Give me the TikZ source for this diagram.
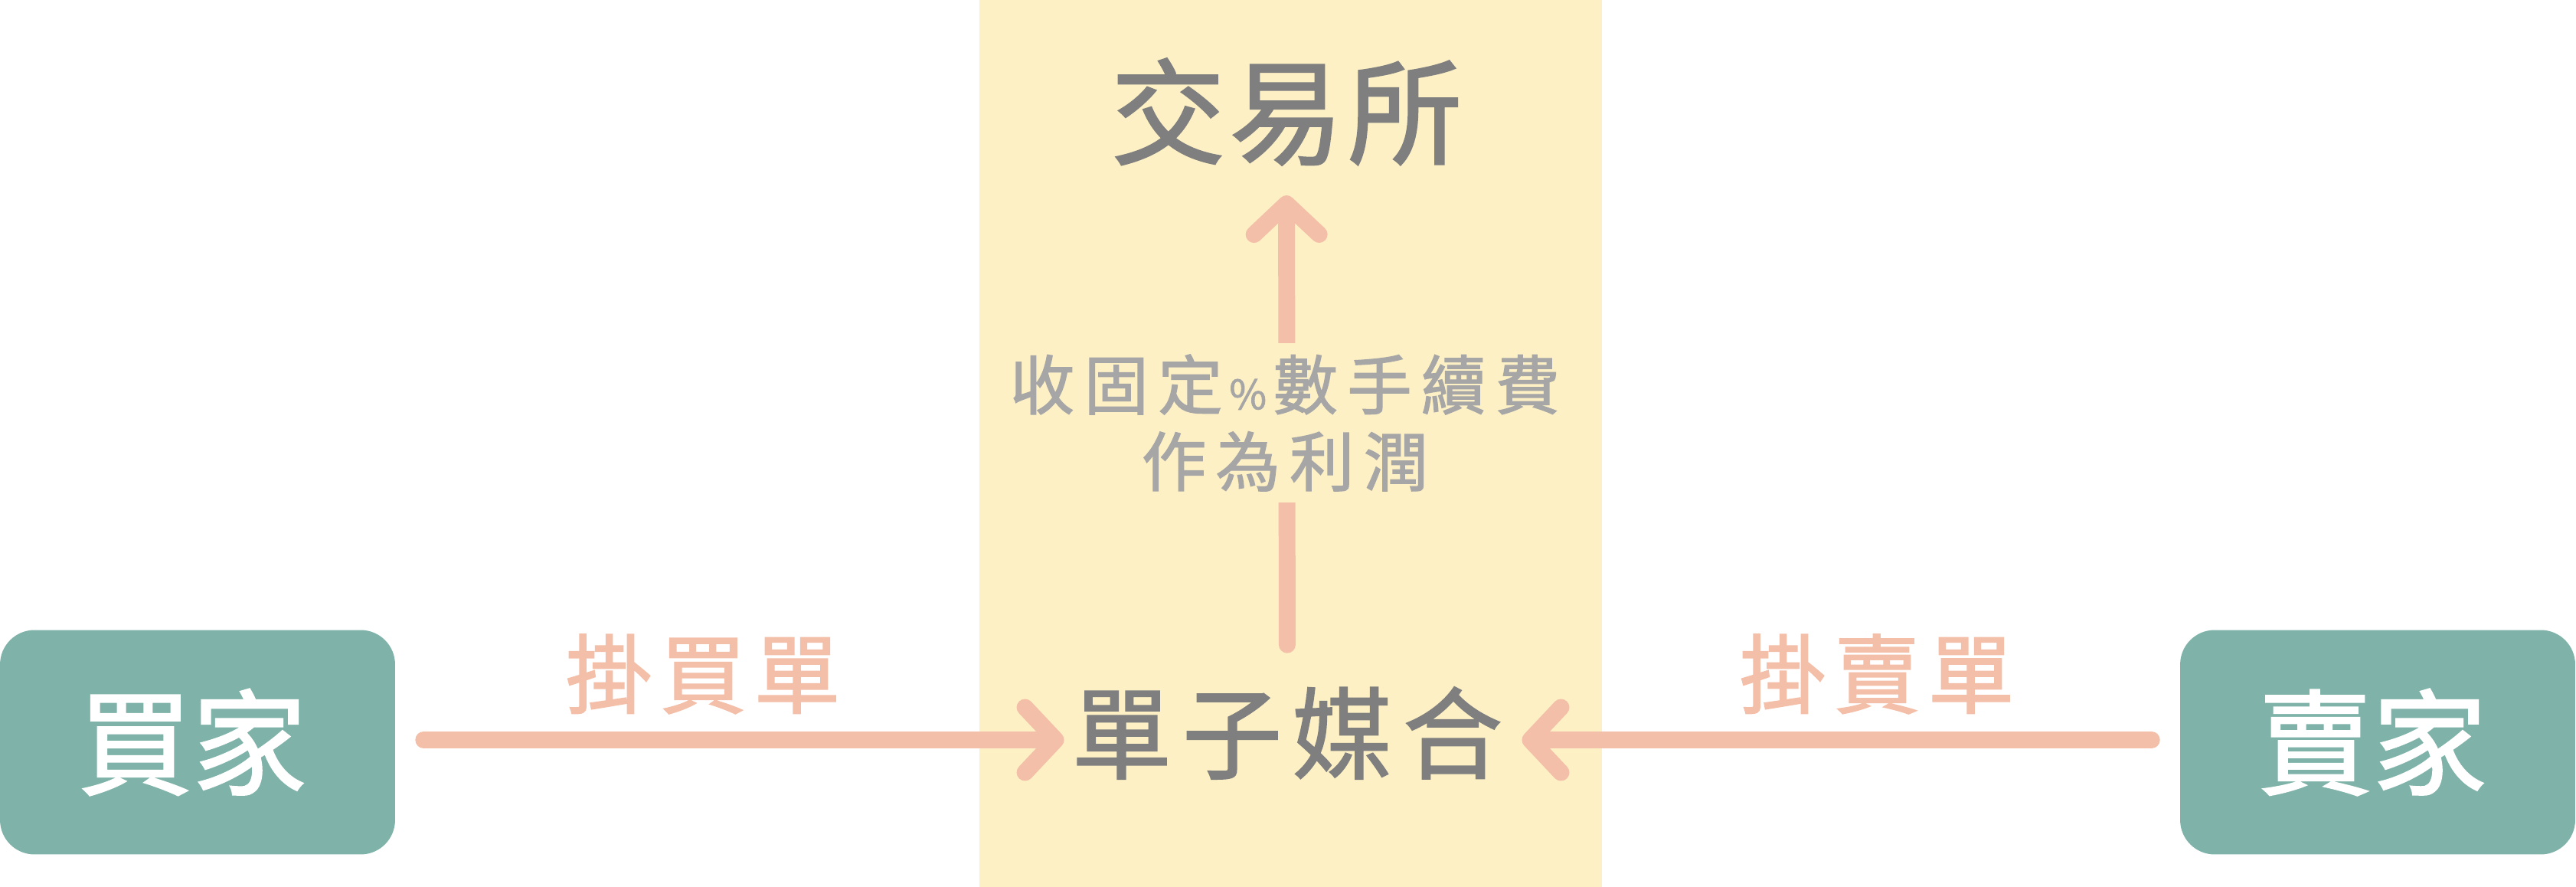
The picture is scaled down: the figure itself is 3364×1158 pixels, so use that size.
\documentclass[tikz,border=0pt]{standalone}
\usepackage{fontspec}
\setmainfont{Noto Sans CJK TC}
\newfontfamily\medfont{Noto Sans CJK TC}[FakeBold=1.6]
\usetikzlibrary{arrows.meta}
\definecolor{bandyellow}{HTML}{FDF0C5}
\definecolor{boxteal}{HTML}{7FB3A9}
\definecolor{arrowsalmon}{HTML}{F4BFA8}
\definecolor{darktext}{HTML}{7F7F7F}
\definecolor{lighttext}{HTML}{A6A6A6}
\tikzset{
  partybox/.style={fill=boxteal, rounded corners=0.9cm, minimum width=10.32cm,
    minimum height=5.86cm, inner sep=0pt, text=white,
    font=\medfont\fontsize{85}{100}\selectfont},
  bigtext/.style={inner sep=0pt, text=darktext},
  ordertext/.style={inner sep=0pt, text=arrowsalmon,
    font=\medfont\fontsize{64}{76}\selectfont},
  feetext/.style={inner sep=0pt, text=lighttext, fill=bandyellow, align=center,
    font=\medfont\fontsize{48}{57}\selectfont},
  conn/.style={draw=arrowsalmon, line width=12.5pt, line cap=round,
    -{Straight Barb[round, length=0.8cm, width=1.7cm]}},
}
\begin{document}
\begin{tikzpicture}[x=0.02cm, y=-0.02cm]
\useasboundingbox (0,0) rectangle (3364,1158);
\fill[white] (0,0) rectangle (3364,1158);
\fill[bandyellow] (1279,0) rectangle (2092,1158);

\node[partybox] (buyer) at (258,969) {\kern-8pt 買家};
\node[partybox] (seller) at (3105,969) {\kern-8pt 賣家};

\node[bigtext, font=\medfont\fontsize{85}{100}\selectfont] (exchange) at (1680,146)
  {交\kern3pt 易\kern3pt 所};
\node[bigtext, font=\medfont\fontsize{74}{88}\selectfont] (match) at (1681,957)
  {單\kern8pt 子\kern8pt 媒\kern8pt 合};

\node[ordertext] (buylabel) at (918,880) {掛\kern6pt 買\kern6pt 單};
\node[ordertext] (selllabel) at (2451,880) {掛\kern6pt 賣\kern6pt 單};

\draw[conn, shorten <=0.74cm, shorten >=0.2cm] (buyer.east |- 0,966) -- (match.west |- 0,966);
\draw[conn, shorten <=0.74cm, shorten >=0.5cm] (seller.west |- 0,966) -- (match.east |- 0,966);
\draw[conn, shorten <=1.1cm, shorten >=0.78cm] (match.north) -- (exchange.south);

\node[feetext, inner ysep=0.3cm] (fee) at (1678,552)
  {收\kern7pt 固\kern7pt 定\kern5pt {\fontsize{30}{36}\selectfont\%}\kern5pt 數\kern7pt 手\kern7pt 續\kern7pt 費\\
   作\kern7pt 為\kern7pt 利\kern7pt 潤};
\end{tikzpicture}
\end{document}
